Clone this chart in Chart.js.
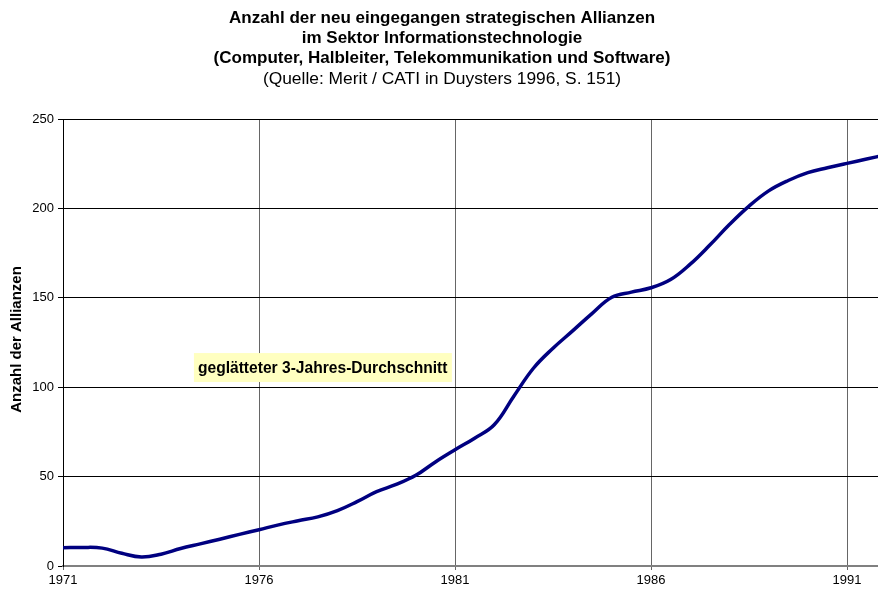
<!DOCTYPE html>
<html>
<head>
<meta charset="utf-8">
<script src="https://cdn.jsdelivr.net/npm/chart.js@4"></script>
<style>
  html, body { margin: 0; padding: 0; background: #fff; }
  canvas { display: block; }
</style>
</head>
<body>
<canvas id="c" width="878" height="591"></canvas>
<script>
const titleLines = [
  "Anzahl der neu eingegangen strategischen Allianzen",
  "im Sektor Informationstechnologie",
  "(Computer, Halbleiter, Telekommunikation und Software)"
];
const subtitleText = "(Quelle: Merit / CATI in Duysters 1996, S. 151)";
const yAxisTitle = "Anzahl der Allianzen";
const annotationText = "geglätteter 3-Jahres-Durchschnitt";

const years = [1971, 1971.5, 1972, 1972.5, 1973, 1973.5, 1974, 1974.5, 1975, 1975.5,
               1976, 1976.5, 1977, 1977.5, 1978, 1978.5, 1979, 1979.5, 1980, 1980.5,
               1981, 1981.5, 1982, 1982.5, 1983, 1983.5, 1984, 1984.5, 1985, 1985.5,
               1986, 1986.5, 1987, 1987.5, 1988, 1988.5, 1989, 1989.5, 1990, 1990.5,
               1991, 1991.5, 1992];
const alliances = [10.2, 10.4, 10.0, 7.1, 5.0, 6.6, 9.8, 12.4, 15.0, 17.7,
                   20.3, 23.0, 25.3, 27.5, 31.0, 36.0, 41.6, 45.6, 50.7, 58.2,
                   65.0, 71.5, 79.0, 95.0, 110.6, 121.8, 131.5, 141.3, 150.3, 153.2,
                   155.6, 160.2, 168.8, 179.5, 191.0, 201.3, 209.8, 215.6, 220.0, 222.7,
                   225.2, 227.6, 230.0];
const xTickYears = [1971, 1976, 1981, 1986, 1991];
const yTicks = [0, 50, 100, 150, 200, 250];

const FONT = "'Liberation Sans', Arial, sans-serif";

const textPlugin = {
  id: 'texts',
  afterDraw(chart) {
    const ctx = chart.ctx;
    const cx = chart.width / 2 + 3;
    ctx.save();
    ctx.fillStyle = '#000';
    ctx.textAlign = 'center';
    ctx.textBaseline = 'middle';
    ctx.font = "bold 17px " + FONT;
    titleLines.forEach((t, i) => ctx.fillText(t, cx, 18 + i * 20));
    ctx.font = "17.4px " + FONT;
    ctx.fillText(subtitleText, cx, 79);

    // y-axis title
    const ca = chart.chartArea;
    ctx.save();
    ctx.translate(17, (ca.top + ca.bottom) / 2 - 3);
    ctx.rotate(-Math.PI / 2);
    ctx.font = "bold 15px " + FONT;
    ctx.fillText(yAxisTitle, 0, 0);
    ctx.restore();
    ctx.restore();
  }
};

const annotationPlugin = {
  id: 'annot',
  afterDatasetsDraw(chart) {
    const ctx = chart.ctx;
    const xs = chart.scales.x, ys = chart.scales.y;
    const x0 = xs.getPixelForValue(1974.34);
    const x1 = xs.getPixelForValue(1980.92);
    const y0 = ys.getPixelForValue(119.1);
    const y1 = ys.getPixelForValue(102.9);
    ctx.save();
    ctx.fillStyle = '#FFFFC0';
    ctx.fillRect(x0, y0, x1 - x0, y1 - y0);
    ctx.fillStyle = '#000';
    ctx.font = "bold 15.6px " + FONT;
    ctx.textAlign = 'left';
    ctx.textBaseline = 'middle';
    ctx.fillText(annotationText, x0 + 4, (y0 + y1) / 2 + 1);
    ctx.restore();
  }
};

new Chart(document.getElementById('c'), {
  type: 'line',
  data: {
    datasets: [{
      data: years.map((y, i) => ({ x: y, y: alliances[i] })),
      borderColor: '#000080',
      borderWidth: 3.5,
      pointRadius: 0,
      tension: 0.4,
      fill: false
    }]
  },
  options: {
    responsive: false,
    animation: false,
    layout: { padding: { top: 119, left: 0, right: 0, bottom: 0 } },
    plugins: {
      legend: { display: false },
      tooltip: { enabled: false },
      title: { display: false }
    },
    scales: {
      x: {
        type: 'linear',
        min: 1971,
        max: 1991.79,
        afterBuildTicks: s => { s.ticks = xTickYears.map(v => ({ value: v })); },
        afterFit: s => { s.height = 25; },
        ticks: {
          callback: v => String(v),
          color: '#000',
          font: { family: FONT, size: 13 },
          padding: 3,
          maxRotation: 0,
          autoSkip: false
        },
        grid: { color: '#666', lineWidth: 1, tickLength: 4, tickColor: '#666' },
        border: { color: '#808080', width: 2 }
      },
      y: {
        min: 0,
        max: 250,
        afterBuildTicks: s => { s.ticks = yTicks.map(v => ({ value: v })); },
        afterFit: s => { s.width = 63; },
        ticks: {
          color: '#000',
          font: { family: FONT, size: 13 },
          padding: 4
        },
        grid: { color: '#000', lineWidth: 1, tickLength: 5, tickColor: '#000' },
        border: { color: '#000', width: 1 }
      }
    }
  },
  plugins: [textPlugin, annotationPlugin]
});
</script>
</body>
</html>
